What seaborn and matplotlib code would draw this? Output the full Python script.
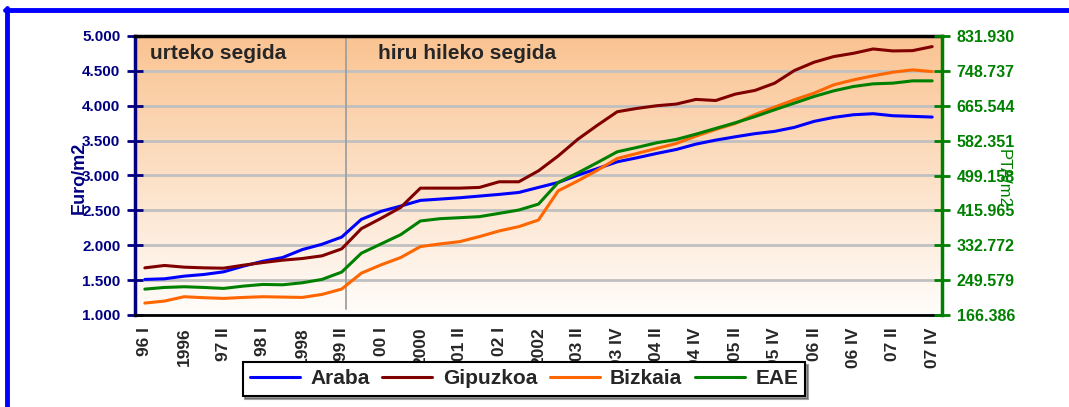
import numpy as np
import pandas as pd
import matplotlib
matplotlib.use("Agg")
import matplotlib.pyplot as plt
import seaborn as sns
from matplotlib.lines import Line2D

# ---------------- data ----------------
categories = ["96 I", "96 II", "1996", "97 I", "97 II", "1997", "98 I", "98 II", "1998",
              "99 I", "99 II", "1999", "00 I", "00 II", "2000", "01 I", "01 II", "2001",
              "02 I", "02 II", "2002", "03 I", "03 II", "03 III", "03 IV", "04 I", "04 II",
              "04 III", "04 IV", "05 I", "05 II", "05 III", "05 IV", "06 I", "06 II",
              "06 III", "06 IV", "07 I", "07 II", "07 III", "07 IV"]

araba = [1510, 1519, 1557, 1581, 1619, 1700, 1771, 1824, 1938, 2014, 2117,
         2371, 2486, 2562, 2643, 2662, 2681, 2705, 2729, 2757, 2829,
         2900, 3005, 3100, 3196, 3254, 3316, 3373, 3450, 3507, 3555,
         3600, 3633, 3690, 3776, 3833, 3871, 3886, 3857, 3848, 3838]
gipuzkoa = [1676, 1710, 1686, 1676, 1671, 1714, 1752, 1786, 1810, 1848, 1948,
            2238, 2386, 2543, 2819, 2819, 2819, 2829, 2910, 2910, 3067,
            3280, 3520, 3722, 3914, 3962, 4000, 4024, 4091, 4075, 4167,
            4220, 4324, 4505, 4624, 4705, 4752, 4814, 4786, 4790, 4848]
bizkaia = [1171, 1200, 1262, 1248, 1238, 1252, 1262, 1257, 1252, 1295, 1372,
           1600, 1719, 1824, 1981, 2019, 2052, 2124, 2205, 2267, 2362,
           2780, 2923, 3077, 3244, 3316, 3388, 3459, 3565, 3660, 3746,
           3875, 3981, 4086, 4181, 4300, 4371, 4429, 4481, 4514, 4490]
eae = [1371, 1395, 1405, 1395, 1381, 1414, 1438, 1433, 1462, 1510, 1615,
       1886, 2019, 2152, 2348, 2381, 2395, 2410, 2457, 2505, 2590,
       2900, 3038, 3187, 3340, 3402, 3469, 3517, 3593, 3675, 3756,
       3845, 3943, 4038, 4133, 4214, 4276, 4314, 4324, 4357, 4357]

series_names = ["Araba", "Gipuzkoa", "Bizkaia", "EAE"]
series_colors = ["#0000FF", "#800000", "#FF6600", "#008000"]

euro_ticks = [1000, 1500, 2000, 2500, 3000, 3500, 4000, 4500, 5000]
pta_ticks = [166386, 249579, 332772, 415965, 499158, 582351, 665544, 748737, 831930]

left_title = "Euro/m2"
right_title = "PTA/m2"
note_annual = "urteko segida"
note_quarter = "hiru hileko segida"

# ---------------- frame ----------------
df = pd.DataFrame({"idx": np.arange(len(categories)),
                   "Araba": araba, "Gipuzkoa": gipuzkoa,
                   "Bizkaia": bizkaia, "EAE": eae})
long = df.melt(id_vars="idx", var_name="region", value_name="value")

sns.set_style("white")
plt.rcParams["font.family"] = ["Liberation Sans", "DejaVu Sans"]

W, H = 1069, 407
fig = plt.figure(figsize=(W / 100, H / 100), dpi=100)
ax = fig.add_axes([135 / W, 1 - 315 / H, (942 - 135) / W, (315 - 36) / H])

# gradient background
g = np.linspace(0, 1, 256)[:, None, None]
top = np.array([250, 195, 145]) / 255
bot = np.array([255, 253, 251]) / 255
img = top * (1 - g) + bot * g
ax.imshow(img, extent=[0, 1, 0, 1], transform=ax.transAxes, aspect="auto",
          origin="upper", zorder=-2, interpolation="bilinear")

sns.lineplot(data=long, x="idx", y="value", hue="region",
             hue_order=series_names, palette=series_colors,
             linewidth=2.2, ax=ax, legend=False, sort=False, zorder=3)

ax.set_xlim(-0.5, len(categories) - 0.5)
ax.set_ylim(1000, 5000)
ax.set_xlabel("")

navy = "#000080"
green = "#008000"

# y axis left
ax.set_yticks(euro_ticks)
ax.set_yticklabels([f"{v:,}".replace(",", ".") for v in euro_ticks],
                   color=navy, fontweight="bold", fontsize=11)
ax.tick_params(axis="y", direction="inout", length=11, width=2, color=navy, pad=5)
ax.grid(axis="y", color="#C0C0C0", linewidth=2)
ax.grid(axis="x", visible=False)
ax.set_axisbelow(True)
ax.set_ylabel(left_title, color=navy, fontsize=13, fontweight="bold")
ax.yaxis.set_label_coords(-0.058, 0.49)

# x axis
major = list(range(0, len(categories), 2))
ax.set_xticks(major)
ax.set_xticklabels([categories[i] for i in major], rotation=90,
                   fontweight="bold", fontsize=12.5, va="top")
ax.set_xticks(np.arange(-0.5, len(categories), 1), minor=True)
ax.tick_params(axis="x", which="major", length=0, pad=9)
ax.tick_params(axis="x", which="minor", direction="out", length=7, width=1.8, color="black")

# separator
ax.axvline(10.2, ymin=0.02, ymax=1, color="#A0A0A0", linewidth=1.3, zorder=1)

# notes
ax.text(0.019, 0.939, note_annual, transform=ax.transAxes, fontsize=15,
        fontweight="bold", va="center", ha="left")
ax.text(0.301, 0.939, note_quarter, transform=ax.transAxes, fontsize=15,
        fontweight="bold", va="center", ha="left")

# spines
for s in ax.spines.values():
    s.set_visible(True)
ax.spines["top"].set_color("black")
ax.spines["top"].set_linewidth(2.5)
ax.spines["bottom"].set_color("black")
ax.spines["bottom"].set_linewidth(2)
ax.spines["left"].set_color(navy)
ax.spines["left"].set_linewidth(2.5)
ax.spines["right"].set_visible(False)

# right axis
ax2 = ax.twinx()
ax2.set_ylim(pta_ticks[0], pta_ticks[-1])
ax2.set_yticks(pta_ticks)
ax2.set_yticklabels([f"{v:,}".replace(",", ".") for v in pta_ticks],
                    color=green, fontweight="bold", fontsize=11.5)
ax2.tick_params(axis="y", direction="inout", length=11, width=2, color=green, pad=5)
ax2.grid(False)
for k in ["top", "bottom", "left"]:
    ax2.spines[k].set_visible(False)
ax2.spines["right"].set_visible(True)
ax2.spines["right"].set_color(green)
ax2.spines["right"].set_linewidth(2.5)
ax2.set_ylabel(right_title, color=green, fontsize=12, rotation=-90, va="center")
ax2.yaxis.set_label_coords(1.0756, 0.49)

# legend
handles = [Line2D([], [], color=c, linewidth=2.2) for c in series_colors]
leg = fig.legend(handles, series_names, loc="center",
                 bbox_to_anchor=((243 + 805) / 2 / W, 1 - 379 / H), ncol=4,
                 frameon=True, fancybox=False, edgecolor="black",
                 shadow={"color": "0.25"},
                 prop={"weight": "bold", "size": 15}, handlelength=2.4,
                 handletextpad=0.5, columnspacing=0.6, borderpad=0.35)
leg.get_frame().set_linewidth(1.5)
leg.get_frame().set_facecolor("white")
leg.get_frame().set_alpha(1)

# blue outer border
fig.add_artist(Line2D([5 / W, 1], [1 - 9.5 / H, 1 - 9.5 / H], transform=fig.transFigure,
                      color="#0000FF", linewidth=3.5))
fig.add_artist(Line2D([7 / W, 7 / W], [0, 1 - 8 / H], transform=fig.transFigure,
                      color="#0000FF", linewidth=3.5))

fig.savefig("out.png", dpi=100)
